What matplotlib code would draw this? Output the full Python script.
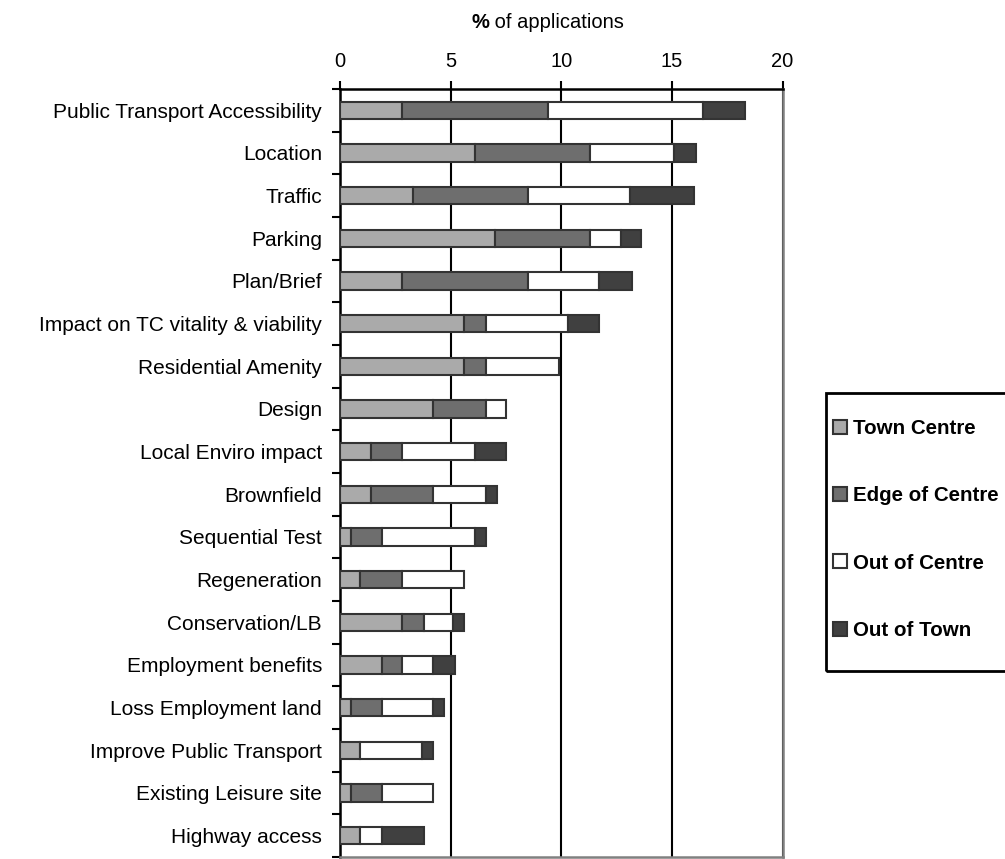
import numpy as np
import matplotlib
matplotlib.use('Agg')
import matplotlib.pyplot as plt
from matplotlib.patches import Rectangle

plt.rcParams['font.family'] = ['Liberation Sans', 'DejaVu Sans']

# Data (% of applications), read top to bottom
categories = ['Public Transport Accessibility', 'Location', 'Traffic', 'Parking',
              'Plan/Brief', 'Impact on TC vitality & viability', 'Residential Amenity',
              'Design', 'Local Enviro impact', 'Brownfield', 'Sequential Test',
              'Regeneration', 'Conservation/LB', 'Employment benefits',
              'Loss Employment land', 'Improve Public Transport',
              'Existing Leisure site', 'Highway access']
town_centre = [2.8, 6.1, 3.3, 7.0, 2.8, 5.6, 5.6, 4.2, 1.4, 1.4, 0.5, 0.9, 2.8, 1.9, 0.5, 0.9, 0.5, 0.9]
edge_of_centre = [6.6, 5.2, 5.2, 4.3, 5.7, 1.0, 1.0, 2.4, 1.4, 2.8, 1.4, 1.9, 1.0, 0.9, 1.4, 0.0, 1.4, 0.0]
out_of_centre = [7.0, 3.8, 4.6, 1.4, 3.2, 3.7, 3.3, 0.9, 3.3, 2.4, 4.2, 2.8, 1.3, 1.4, 2.3, 2.8, 2.3, 1.0]
out_of_town = [1.9, 1.0, 2.9, 0.9, 1.5, 1.4, 0.0, 0.0, 1.4, 0.5, 0.5, 0.0, 0.5, 1.0, 0.5, 0.5, 0.0, 1.9]
x_ticks = [0, 5, 10, 15, 20]

series = [('Town Centre', town_centre, '#aaaaaa'),
          ('Edge of Centre', edge_of_centre, '#6e6e6e'),
          ('Out of Centre', out_of_centre, '#ffffff'),
          ('Out of Town', out_of_town, '#404040')]

fig = plt.figure(figsize=(10.05, 8.59), dpi=100)
ax = fig.add_axes([340 / 1005, 1 - 857 / 859, 442.5 / 1005, (857 - 89) / 859])

y = np.arange(len(categories))
left = np.zeros(len(categories))
handles = []
for name, vals, color in series:
    vals = np.array(vals)
    keep = vals > 0
    bars = ax.barh(y[keep], vals[keep], left=left[keep], height=0.4, color=color,
                   edgecolor='#333333', linewidth=1.5, label=name, zorder=3)
    handles.append(bars)
    left += vals

ax.set_xlim(0, 20)
ax.set_ylim(len(categories) - 0.5, -0.5)

# x axis on top
ax.xaxis.tick_top()
ax.set_xticks(x_ticks)
ax.tick_params(axis='x', direction='out', length=6, width=1.5, pad=7, labelsize=14.5)
ax.grid(axis='x', color='black', linewidth=1.5, zorder=1)
ax.set_axisbelow(True)

# y ticks at category boundaries, labels at centres
ax.set_yticks(np.arange(len(categories) + 1) - 0.5)
ax.set_yticklabels([])
ax.tick_params(axis='y', which='major', direction='out', length=6, width=1.5)
ax.set_yticks(y, minor=True)
ax.set_yticklabels(categories, minor=True, fontsize=15)
ax.tick_params(axis='y', which='minor', length=0, pad=13)

ax.spines['top'].set_linewidth(1.8)
ax.spines['left'].set_linewidth(1.8)
ax.spines['right'].set_color('#808080')
ax.spines['right'].set_linewidth(1.8)
ax.spines['bottom'].set_color('#808080')
ax.spines['bottom'].set_linewidth(1.8)

# title with bold percent sign
fig.text(489 / 1005, 1 - 22 / 859, '%', fontsize=14.5, fontweight='bold', ha='right', va='center')
fig.text(489 / 1005, 1 - 22 / 859, ' of applications', fontsize=14.5, ha='left', va='center')

# legend with manual frame (runs off the right edge as in the source)
fig.patches.append(Rectangle((826 / 1005, 1 - 671 / 859), 0.3, (671 - 393) / 859,
                             transform=fig.transFigure, fill=False, edgecolor='black',
                             linewidth=2))
leg = fig.legend(handles=handles, loc='upper left', bbox_to_anchor=(833 / 1005, 1 - 419 / 859),
                 frameon=False, prop={'weight': 'bold', 'size': 14.8}, handlelength=0.68,
                 handleheight=0.68, handletextpad=0.3, labelspacing=2.35, borderpad=0,
                 borderaxespad=0)

plt.savefig('out.png', dpi=100)
